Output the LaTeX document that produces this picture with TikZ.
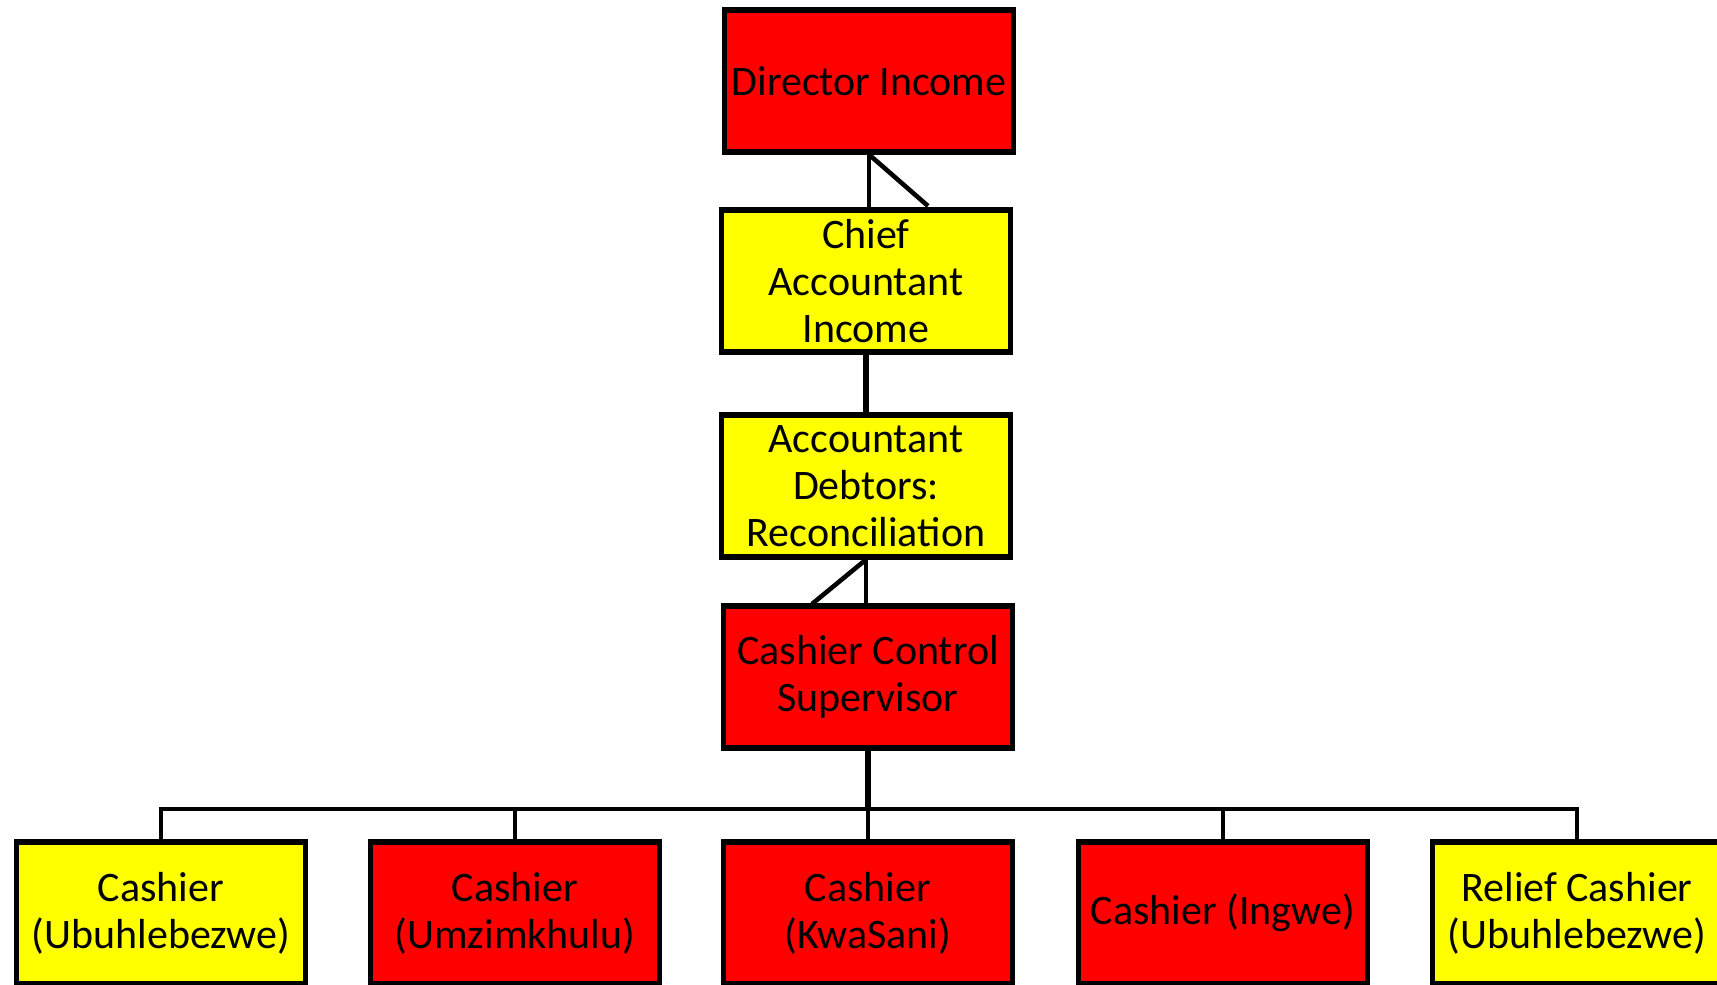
\documentclass[tikz,border=0pt]{standalone}
\usepackage{fontspec}
\setmainfont{Carlito}
\definecolor{postred}{RGB}{255,0,0}
\definecolor{postyellow}{RGB}{255,255,0}
\begin{document}
\begin{tikzpicture}[x=0.02cm, y=-0.02cm,
    post/.style={draw=black, line width=2.9pt, minimum width=5.78cm, minimum height=2.84cm,
      inner sep=0pt, align=center, font=\fontsize{23.9}{26.7}\selectfont},
    redpost/.style={post, fill=postred},
    yellowpost/.style={post, fill=postyellow},
    link/.style={black, line width=2.6pt}]
  \useasboundingbox (0,0) rectangle (1717,984);

  \node [redpost] (director) at (869,81) {Director Income}; % top post
  \node [yellowpost] (chief) at (866,281) {Chief\\Accountant\\Income};
  \node [yellowpost] (debtors) at (866,486) {Accountant\\Debtors:\\Reconciliation};
  \node [redpost] (supervisor) at (868,677) {Cashier Control\\Supervisor};

  \node [yellowpost] (ubuhlebezwe) at (161,913) {Cashier\\(Ubuhlebezwe)}; % bottom row
  \node [redpost] (umzimkhulu) at (515,913) {Cashier\\(Umzimkhulu)};
  \node [redpost] (kwasani) at (868,913) {Cashier\\(KwaSani)};
  \node [redpost] (ingwe) at (1223,913) {Cashier (Ingwe)};
  \node [yellowpost] (relief) at (1577,913) {Relief Cashier\\(Ubuhlebezwe)};

  \coordinate (chiefside) at (928,206);
  \coordinate (supside) at (812,604);
  \coordinate (bus) at (868,809);

  \draw [link] (director.south) -- (director.south |- chief.north);
  \draw [link] (director.south) -- (chiefside);

  \draw [black, line width=3.8pt] (chief.south) -- (debtors.north);

  \draw [link] (debtors.south) -- (debtors.south |- supervisor.north);
  \draw [link] (debtors.south) -- (supside);

  \draw [black, line width=3pt] (supervisor.south) -- (bus);
  \foreach \cashier in {ubuhlebezwe,umzimkhulu,kwasani,ingwe,relief}
    \draw [link] (bus) -| (\cashier.north);
\end{tikzpicture}
\end{document}
